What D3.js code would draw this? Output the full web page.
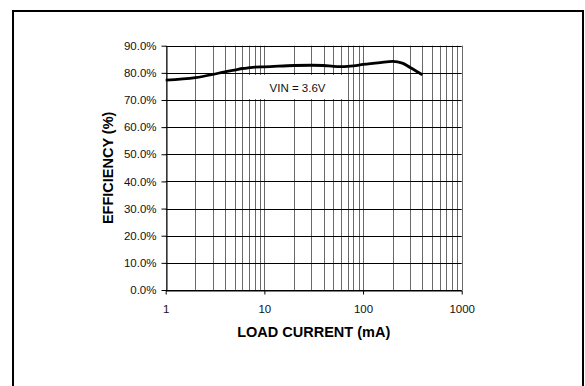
<!DOCTYPE html>
<html>
<head>
<meta charset="utf-8">
<script src="https://cdn.jsdelivr.net/npm/d3@7"></script>
<style>
  body { margin: 0; background: #fff; }
  svg { display: block; font-family: "Liberation Sans", Arial, sans-serif; }
</style>
</head>
<body>
<svg id="chart" width="585" height="386"></svg>
<script>
// load current (mA) vs efficiency (%)
var current = [1, 2, 3, 4, 5, 6, 7, 8, 10, 20, 30, 40, 50, 60, 70, 80, 100, 150, 200, 250, 300, 400];
var efficiency = [77.3, 78.2, 79.4, 80.4, 81.0, 81.6, 81.9, 82.1, 82.2, 82.7, 82.8, 82.7, 82.4, 82.3, 82.4, 82.6, 83.1, 83.8, 84.2, 83.6, 82.0, 79.3];
var yTicks = [0, 10, 20, 30, 40, 50, 60, 70, 80, 90];
var xTicks = [1, 10, 100, 1000];
var label = "VIN = 3.6V";

var svg = d3.select("#chart"),
    plotL = 165.7, plotR = 461.7, plotT = 45.7, plotB = 290;

// outer frame
svg.append("path")
    .attr("d", "M13,390V11H583V390")
    .attr("fill", "none")
    .attr("stroke", "black")
    .attr("stroke-width", 2);

var x = d3.scaleLog().domain([1, 1000]).range([plotL, plotR]);
var y = d3.scaleLinear().domain([0, 90]).range([plotB, plotT]);

var px = function(v) { return Math.round(v) + 0.5; };

// vertical grid, every minor decade line
svg.append("g")
    .selectAll("line")
    .data(x.ticks())
    .enter().append("line")
    .attr("x1", function(d) { return px(x(d)); })
    .attr("x2", function(d) { return px(x(d)); })
    .attr("y1", plotT)
    .attr("y2", plotB)
    .attr("stroke", "#6a6a6a")
    .attr("stroke-width", 1);

// horizontal grid
svg.append("g")
    .selectAll("line")
    .data(yTicks)
    .enter().append("line")
    .attr("x1", plotL)
    .attr("x2", plotR)
    .attr("y1", function(d) { return px(y(d)); })
    .attr("y2", function(d) { return px(y(d)); })
    .attr("stroke", "black")
    .attr("stroke-width", 1);

// axes
svg.append("g")
    .attr("transform", "translate(" + px(plotL) + ",0)")
    .call(d3.axisLeft(y).tickValues(yTicks).tickSize(5).tickSizeOuter(0).tickPadding(5)
        .tickFormat(function(d) { return d.toFixed(1) + "%"; }));

svg.append("g")
    .attr("transform", "translate(0," + px(plotB) + ")")
    .call(d3.axisBottom(x).tickValues(xTicks).tickSize(4).tickSizeOuter(0).tickPadding(10)
        .tickFormat(d3.format("d")));

svg.selectAll(".tick text")
    .attr("font-size", "11.5px")
    .attr("font-family", "Liberation Sans, Arial, sans-serif")
    .attr("fill", "#111");
svg.selectAll(".domain, .tick line").attr("stroke", "black");

// label box
svg.append("rect")
    .attr("x", 247)
    .attr("y", 75)
    .attr("width", 99)
    .attr("height", 24)
    .attr("fill", "white");

svg.append("text")
    .attr("x", 297.5)
    .attr("y", 92)
    .attr("text-anchor", "middle")
    .attr("font-size", "11.5px")
    .attr("fill", "#111")
    .text(label);

// efficiency curve
var line = d3.line()
    .x(function(d, i) { return x(d); })
    .y(function(d, i) { return y(efficiency[i]); })
    .curve(d3.curveMonotoneX);

svg.append("path")
    .datum(current)
    .attr("d", line)
    .attr("fill", "none")
    .attr("stroke", "black")
    .attr("stroke-width", 2.8);

// axis titles
svg.append("text")
    .attr("x", (plotL + plotR) / 2)
    .attr("y", 337)
    .attr("text-anchor", "middle")
    .attr("font-size", "14.5px")
    .attr("font-weight", "bold")
    .text("LOAD CURRENT (mA)");

svg.append("text")
    .attr("transform", "translate(113," + (plotT + plotB) / 2 + ") rotate(-90)")
    .attr("text-anchor", "middle")
    .attr("font-size", "14.5px")
    .attr("font-weight", "bold")
    .text("EFFICIENCY (%)");
</script>
</body>
</html>
